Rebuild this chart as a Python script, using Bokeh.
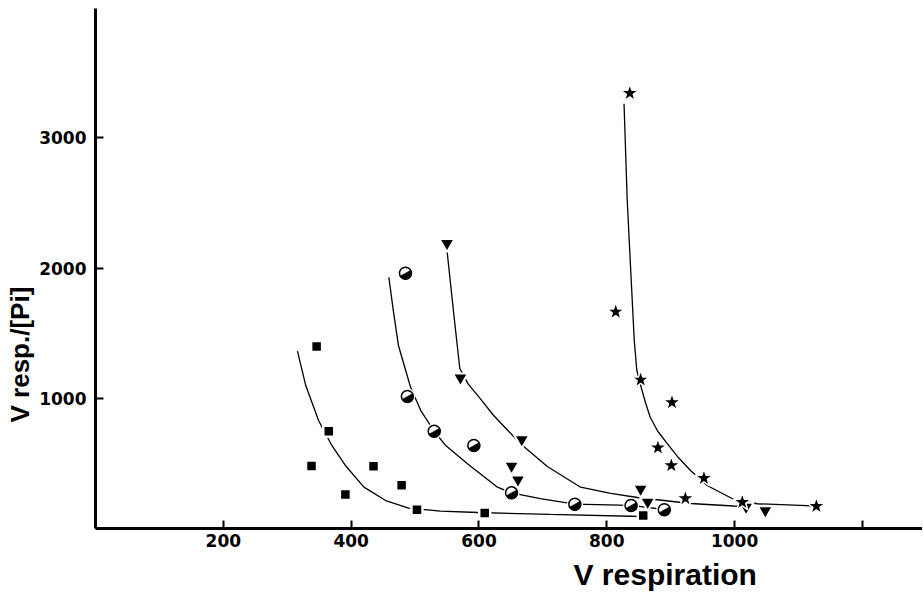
import math
from bokeh.plotting import figure
from bokeh.models import FixedTicker, Range1d, Title
from bokeh.embed import file_html
from bokeh.resources import INLINE

# ---- data ----
sq_x = [346, 365, 338, 391, 435, 479, 503, 609, 857]
sq_y = [1398, 747, 481, 261, 479, 333, 144, 120, 100]

ci_x = [485, 488, 530, 592, 651, 750, 838, 890]
ci_y = [1961, 1014, 747, 637, 274, 187, 177, 144]

tr_x = [550, 571, 667, 651, 661, 853, 864, 1018, 1048]
tr_y = [2191, 1157, 683, 479, 374, 302, 202, 164, 138]

st_x = [836, 814, 853, 902, 880, 901, 952, 923, 1012, 1128]
st_y = [3343, 1664, 1142, 968, 620, 484, 386, 230, 202, 171]

# hand-drawn fitted curves (vertices)
sq_fit_x = [316, 329, 349, 369, 391, 420, 454, 490, 540, 598, 712, 853]
sq_fit_y = [1362, 1098, 829, 645, 484, 318, 215, 157, 134, 123, 108, 92]

ci_fit_x = [459, 466, 474, 493, 509, 530, 548, 582, 629, 651, 696, 750, 837, 890]
ci_fit_y = [1930, 1674, 1406, 1085, 906, 747, 637, 497, 317, 274, 230, 187, 177, 146]

tr_fit_x = [550, 560, 570, 583, 602, 623, 665, 707, 759, 806, 848, 931, 998, 1018]
tr_fit_y = [2135, 1674, 1229, 1111, 998, 868, 651, 476, 317, 269, 238, 192, 173, 169]

st_fit_x = [827, 832, 838, 843, 847, 853, 861, 868, 880, 895, 912, 931, 957, 999, 1035, 1103, 1127]
st_fit_y = [3262, 2519, 1930, 1444, 1214, 1098, 960, 855, 745, 650, 545, 445, 330, 223, 190, 177, 173]

x_ticks = [200, 400, 600, 800, 1000, 1200]
y_ticks = [1000, 2000, 3000]

x_title = "V respiration"
y_title = "V resp./[Pi]"

# ---- figure ----
p = figure(width=922, height=600, output_backend="svg", toolbar_location=None,
           x_range=Range1d(0, 1294), y_range=Range1d(0, 3994),
           min_border_left=95, min_border_right=0, min_border_top=8,
           min_border_bottom=72)
p.outline_line_color = None
p.grid.visible = False
p.background_fill_color = "white"
p.border_fill_color = "white"

p.xaxis.ticker = FixedTicker(ticks=x_ticks)
p.xaxis.major_label_overrides = {1200: ""}
p.yaxis.ticker = FixedTicker(ticks=y_ticks)
for ax in (p.xaxis, p.yaxis):
    ax.axis_line_width = 3
    ax.axis_line_color = "black"
    ax.major_tick_in = 8
    ax.major_tick_out = 0
    ax.major_tick_line_width = 2
    ax.major_tick_line_color = "black"
    ax.minor_tick_line_color = None
    ax.major_label_text_font = "DejaVu Sans"
    ax.major_label_text_font_style = "bold"
    ax.major_label_text_font_size = "17px"
    ax.major_label_text_color = "black"
p.xaxis.major_label_standoff = 5
p.yaxis.major_label_standoff = 9

# curves
for fx, fy in ((sq_fit_x, sq_fit_y), (ci_fit_x, ci_fit_y),
               (tr_fit_x, tr_fit_y), (st_fit_x, st_fit_y)):
    p.line(fx, fy, line_color="black", line_width=1.3)

# markers with white halo (gaps in the curves)
p.scatter(sq_x, sq_y, marker="square", size=11, fill_color="black",
          line_color="white", line_width=2.5)
p.scatter(tr_x, tr_y, marker="inverted_triangle", size=15, fill_color="black",
          line_color="white", line_width=2)
p.scatter(st_x, st_y, marker="star", size=19, fill_color="black",
          line_color="white", line_width=1.5)
p.scatter(ci_x, ci_y, marker="circle", size=16, fill_color="white",
          line_color="white", line_width=0)
p.scatter(ci_x, ci_y, marker="circle", size=12, fill_color="white",
          line_color="black", line_width=1.5)
p.wedge(ci_x, ci_y, radius=6, radius_units="screen",
        start_angle=math.pi + 0.5, end_angle=2 * math.pi + 0.5,
        fill_color="black", line_color="black", line_width=0.5)

# axis titles
p.add_layout(Title(text=x_title, align="left", offset=478,
                   text_font="Liberation Sans", text_font_style="bold",
                   text_font_size="30px", text_color="black", standoff=13),
             "below")
p.add_layout(Title(text=y_title, align="left", offset=106,
                   text_font="Liberation Sans", text_font_style="bold",
                   text_font_size="26px", text_color="black", standoff=4),
             "left")

open("out.html", "w").write(file_html(p, INLINE))
